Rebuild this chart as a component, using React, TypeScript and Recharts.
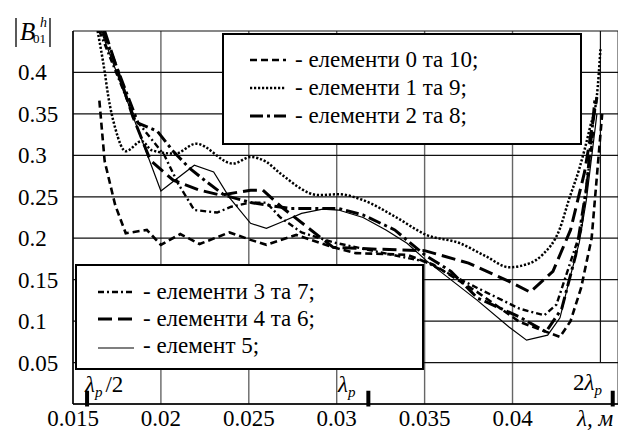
import React from "react";
import {
  LineChart,
  Line,
  XAxis,
  YAxis,
  CartesianGrid,
  ReferenceLine,
  Customized,
} from "recharts";

const serif = "'Liberation Serif', 'Times New Roman', serif";

// wavelength (m) and |B01h| for each element pair
const lam0_10 = [0.0165, 0.0168, 0.0174, 0.018, 0.0192, 0.02, 0.0211, 0.0222, 0.0239, 0.0251, 0.026, 0.0277, 0.0298, 0.0311, 0.034, 0.0355, 0.038, 0.0404, 0.0427, 0.0433, 0.0439, 0.0445, 0.0449, 0.0451];
const b0_10 = [0.366, 0.293, 0.24, 0.206, 0.21, 0.192, 0.205, 0.193, 0.207, 0.198, 0.192, 0.204, 0.189, 0.182, 0.18, 0.168, 0.135, 0.099, 0.081, 0.1, 0.14, 0.2, 0.3, 0.35];

const lam1_9 = [0.0164, 0.0168, 0.017, 0.0174, 0.018, 0.0189, 0.0195, 0.0208, 0.022, 0.0241, 0.0251, 0.026, 0.0268, 0.029, 0.0301, 0.0315, 0.0334, 0.0351, 0.037, 0.0385, 0.0398, 0.041, 0.0417, 0.0427, 0.0432, 0.0438, 0.0444, 0.0448, 0.045];
const b1_9 = [0.45, 0.401, 0.372, 0.333, 0.305, 0.317, 0.306, 0.302, 0.314, 0.29, 0.298, 0.292, 0.278, 0.252, 0.253, 0.246, 0.225, 0.204, 0.194, 0.178, 0.165, 0.17, 0.18, 0.212, 0.246, 0.284, 0.333, 0.372, 0.428];

const lam2_8 = [0.0167, 0.0187, 0.0198, 0.0207, 0.0216, 0.0226, 0.0236, 0.0251, 0.0273, 0.0301, 0.0315, 0.0333, 0.035, 0.0365, 0.038, 0.0404, 0.0419, 0.0428, 0.0436, 0.0442, 0.0447];
const b2_8 = [0.45, 0.339, 0.329, 0.305, 0.285, 0.268, 0.252, 0.243, 0.236, 0.236, 0.228, 0.21, 0.18, 0.16, 0.128, 0.105, 0.087, 0.115, 0.18, 0.26, 0.37];

const lam3_7 = [0.0165, 0.0185, 0.0202, 0.021, 0.0219, 0.0232, 0.024, 0.0251, 0.026, 0.0268, 0.028, 0.0298, 0.032, 0.035, 0.038, 0.0404, 0.0418, 0.0425, 0.0432, 0.0439, 0.0446];
const b3_7 = [0.45, 0.345, 0.3, 0.265, 0.234, 0.231, 0.238, 0.243, 0.243, 0.225, 0.207, 0.195, 0.185, 0.172, 0.14, 0.115, 0.107, 0.12, 0.165, 0.21, 0.33];

const lam4_6 = [0.0168, 0.0184, 0.0194, 0.0207, 0.0222, 0.0234, 0.0251, 0.0258, 0.0269, 0.0298, 0.032, 0.035, 0.0375, 0.0398, 0.041, 0.0423, 0.0433, 0.0441, 0.0448];
const b4_6 = [0.45, 0.347, 0.294, 0.27, 0.258, 0.252, 0.258, 0.258, 0.237, 0.189, 0.187, 0.185, 0.17, 0.148, 0.135, 0.16, 0.21, 0.28, 0.37];

const lam5 = [0.0166, 0.02, 0.0219, 0.023, 0.0239, 0.0251, 0.026, 0.0268, 0.028, 0.0292, 0.0301, 0.0315, 0.0328, 0.034, 0.0351, 0.038, 0.0398, 0.0408, 0.042, 0.0427, 0.0432, 0.0438, 0.0442, 0.0448];
const b5 = [0.45, 0.257, 0.288, 0.28, 0.249, 0.218, 0.212, 0.219, 0.23, 0.235, 0.234, 0.225, 0.21, 0.194, 0.173, 0.125, 0.093, 0.077, 0.083, 0.104, 0.147, 0.195, 0.246, 0.35];

const xTicks = [0.015, 0.02, 0.025, 0.03, 0.035, 0.04];
const yTicks = [0, 0.05, 0.1, 0.15, 0.2, 0.25, 0.3, 0.35, 0.4, 0.45];
// positions of λp/2, λp and 2λp marks on the axis
const markX = [0.0158, 0.0318, 0.0457];

const toPoints = (lam: number[], val: number[]) => lam.map((x, i) => ({ x, y: val[i] }));

const series = [
  { name: "елементи 0 та 10;", data: toPoints(lam0_10, b0_10), dash: "7 4", width: 2.6, type: "linear" },
  { name: "елементи 1 та 9;", data: toPoints(lam1_9, b1_9), dash: "2.2 1.8", width: 2.5, type: "monotone" },
  { name: "елементи 2 та 8;", data: toPoints(lam2_8, b2_8), dash: "13 4 3 4", width: 3, type: "linear" },
  { name: "елементи 3 та 7;", data: toPoints(lam3_7, b3_7), dash: "6 3 2 3", width: 2.4, type: "linear" },
  { name: "елементи 4 та 6;", data: toPoints(lam4_6, b4_6), dash: "14 6", width: 3, type: "linear" },
  { name: "елемент 5;", data: toPoints(lam5, b5), dash: undefined, width: 1.2, type: "linear" },
];

const font = { fontFamily: serif };

const YTick = (props: any) => {
  const { y, payload } = props;
  if (payload.value === 0 || payload.value === 0.45) return <g />;
  return (
    <text x={18} y={y} dy={8} fontSize={23} fill="#000" style={font}>
      {payload.value}
    </text>
  );
};

const XTick = (props: any) => {
  const { x, payload } = props;
  return (
    <text x={x} y={426} textAnchor="middle" fontSize={23} fill="#000" style={font}>
      {payload.value}
    </text>
  );
};

function LegendRows({ items, x0, lineY, textY }: { items: typeof series; x0: number; lineY: number[]; textY: number[] }) {
  return (
    <>
      {items.map((s, i) => (
        <g key={s.name}>
          <line
            x1={x0}
            x2={x0 + 36}
            y1={lineY[i]}
            y2={lineY[i]}
            stroke="#000"
            strokeWidth={s.width}
            strokeDasharray={s.dash}
          />
          <text x={x0 + 45} y={textY[i]} fontSize={23} fill="#000" style={font}>
            {"- " + s.name}
          </text>
        </g>
      ))}
    </>
  );
}

function Overlay() {
  return (
    <g fill="#000">
      {/* y title |B01h| */}
      <line x1={16} y1={18} x2={16} y2={47} stroke="#000" strokeWidth={1.3} />
      <line x1={50} y1={18} x2={50} y2={47} stroke="#000" strokeWidth={1.3} />
      <text x={20} y={40} fontSize={25} fontStyle="italic" style={font}>B</text>
      <text x={40} y={27} fontSize={14} fontStyle="italic" style={font}>h</text>
      <text x={33} y={43} fontSize={13} style={font}>01</text>

      <rect x={223} y={34} width={358} height={110} fill="#fff" stroke="#000" strokeWidth={2} />
      <LegendRows items={series.slice(0, 3)} x0={250} lineY={[60, 88, 116]} textY={[67, 95, 123]} />

      <rect x={76} y={265} width={347} height={104} fill="#fff" stroke="#000" strokeWidth={2} />
      <LegendRows items={series.slice(3)} x0={98} lineY={[292, 319, 348]} textY={[299, 326, 353]} />

      {/* axis marks */}
      <text x={85} y={392} fontSize={23} style={font}>
        <tspan fontStyle="italic">λ</tspan>
        <tspan fontSize={15} fontStyle="italic" dy={5}>p</tspan>
        <tspan dy={-5} dx={3}>/2</tspan>
      </text>
      <text x={338} y={392} fontSize={23} style={font}>
        <tspan fontStyle="italic">λ</tspan>
        <tspan fontSize={15} fontStyle="italic" dy={5}>p</tspan>
      </text>
      <text x={573} y={390} fontSize={23} style={font}>
        <tspan>2</tspan>
        <tspan fontStyle="italic">λ</tspan>
        <tspan fontSize={15} fontStyle="italic" dy={5}>p</tspan>
      </text>
      <text x={577} y={426} fontSize={23} fontStyle="italic" style={font}>λ, м</text>
    </g>
  );
}

export default function App() {
  return (
    <div style={{ position: "absolute", left: 0, top: 0, width: 618, height: 430, background: "#fff" }}>
      <LineChart width={618} height={430} margin={{ top: 31, right: 0, left: 0, bottom: 0 }}>
        <CartesianGrid horizontal={false} stroke="#666" strokeWidth={1.4} />
        <CartesianGrid vertical={false} stroke="#111" strokeWidth={1.2} />
        <XAxis
          dataKey="x"
          type="number"
          domain={[0.015, 0.046]}
          ticks={xTicks}
          allowDataOverflow
          height={26}
          tickLine={false}
          axisLine={{ stroke: "#000", strokeWidth: 1.5 }}
          tick={<XTick />}
        />
        <YAxis
          type="number"
          domain={[0, 0.45]}
          ticks={yTicks}
          allowDataOverflow
          width={73}
          tickLine={false}
          axisLine={{ stroke: "#000", strokeWidth: 1.5 }}
          tick={<YTick />}
        />
        <ReferenceLine
          segment={[{ x: 0.045, y: 0.05 }, { x: 0.045, y: 0.45 }]}
          stroke="#111"
          strokeWidth={1.2}
        />
        {series.map((s) => (
          <Line
            key={s.name}
            data={s.data}
            dataKey="y"
            type={s.type as any}
            stroke="#000"
            strokeWidth={s.width}
            strokeDasharray={s.dash}
            dot={false}
            activeDot={false}
            isAnimationActive={false}
          />
        ))}
        {markX.map((m) => (
          <ReferenceLine
            key={m}
            segment={[{ x: m, y: -0.003 }, { x: m, y: 0.016 }]}
            stroke="#000"
            strokeWidth={4}
            ifOverflow="visible"
          />
        ))}
        <Customized component={<Overlay />} />
      </LineChart>
    </div>
  );
}
